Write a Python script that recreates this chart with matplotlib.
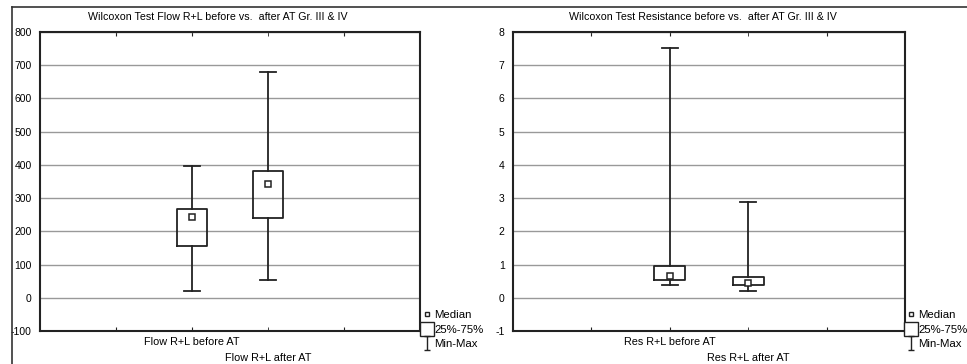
import matplotlib
matplotlib.use('Agg')
import matplotlib.pyplot as plt
from matplotlib.lines import Line2D
from matplotlib.path import Path

plt.rcParams['font.family'] = ['Liberation Sans', 'DejaVu Sans']

# Flow R+L (left panel)
flow_labels = ['Flow R+L before AT', 'Flow R+L after AT']
flow_min = [20, 53]
flow_q1 = [157, 241]
flow_median = [242, 342]
flow_q3 = [266, 383]
flow_max = [397, 681]

# Resistance R+L (right panel)
res_labels = ['Res R+L before AT', 'Res R+L after AT']
res_min = [0.38, 0.20]
res_q1 = [0.55, 0.38]
res_median = [0.65, 0.45]
res_q3 = [0.95, 0.63]
res_max = [7.52, 2.88]

W, H = 967, 364
fig = plt.figure(figsize=(W / 100, H / 100), dpi=100)

# outer frame (top and left only visible)
fig.add_artist(Line2D([12 / W, 12 / W], [0, 1 - 7 / H], color='#333333', lw=1.2))
fig.add_artist(Line2D([12 / W, 1], [1 - 7 / H, 1 - 7 / H], color='#333333', lw=1.2))

ibeam = Path([(-0.5, 1), (0.5, 1), (0, 1), (0, -1), (-0.5, -1), (0.5, -1)],
             [Path.MOVETO, Path.LINETO, Path.MOVETO, Path.LINETO, Path.MOVETO, Path.LINETO])


def draw_panel(rect, labels, mins, q1s, meds, q3s, maxs, ylim, yticks, title, title_x, legend_x):
    ax = fig.add_axes(rect)
    stats = []
    for i in range(len(labels)):
        stats.append(dict(med=meds[i], q1=q1s[i], q3=q3s[i], whislo=mins[i], whishi=maxs[i]))
    pos = [2, 3]
    ax.bxp(stats, positions=pos, widths=0.4, capwidths=0.2, showfliers=False,
           boxprops=dict(color='#222222', lw=1.3),
           whiskerprops=dict(color='#222222', lw=1.3),
           capprops=dict(color='#222222', lw=1.3),
           medianprops=dict(linestyle='none'), zorder=3)
    ax.plot(pos, meds, ls='none', marker='s', ms=4, mfc='white', mec='#222222', mew=1.1, zorder=4)
    ax.set_xlim(0, 5)
    ax.set_ylim(*ylim)
    ax.set_yticks(yticks)
    ax.set_yticklabels([str(t) for t in yticks], fontsize=7.5)
    ax.tick_params(axis='y', length=0, pad=6)
    # staggered category labels: first on major ticks, second on a minor tick further down
    ax.set_xticks([1, 2, 4])
    ax.set_xticklabels(['', labels[0], ''], fontsize=7.8)
    ax.set_xticks([3], minor=True)
    ax.set_xticklabels([labels[1]], minor=True, fontsize=7.8)
    ax.tick_params(axis='x', which='both', direction='in', length=3, top=True, color='#222222')
    ax.tick_params(axis='x', which='major', pad=4)
    ax.tick_params(axis='x', which='minor', pad=16)
    ax.grid(axis='y', color='#999999', lw=1.0)
    for s in ax.spines.values():
        s.set_color('#222222')
        s.set_linewidth(1.5)
    fig.text(title_x / W, 1 - 17 / H, title, ha='center', va='center', fontsize=7.7)
    handles = [
        Line2D([], [], ls='none', marker='s', ms=3.5, mfc='white', mec='#222222', mew=1),
        Line2D([], [], ls='none', marker='s', ms=10, mfc='white', mec='#222222', mew=1),
        Line2D([], [], ls='none', marker=ibeam, ms=10, mec='#222222', mew=1),
    ]
    fig.legend(handles, ['Median', '25%-75%', 'Min-Max'], loc='upper left',
               bbox_to_anchor=(legend_x / W, 1 - 310 / H), frameon=False, fontsize=8.2,
               handlelength=0.6, handletextpad=0.3, labelspacing=0.4, borderpad=0,
               borderaxespad=0)
    return ax


draw_panel([40 / W, 33 / H, 380 / W, 299 / H], flow_labels, flow_min, flow_q1, flow_median,
           flow_q3, flow_max, (-100, 800), list(range(-100, 801, 100)),
           'Wilcoxon Test Flow R+L before vs.  after AT Gr. III & IV', 218, 424)
draw_panel([513 / W, 33 / H, 392 / W, 299 / H], res_labels, res_min, res_q1, res_median,
           res_q3, res_max, (-1, 8), list(range(-1, 9)),
           'Wilcoxon Test Resistance before vs.  after AT Gr. III & IV', 703, 908)

fig.savefig('out.png', dpi=100)
